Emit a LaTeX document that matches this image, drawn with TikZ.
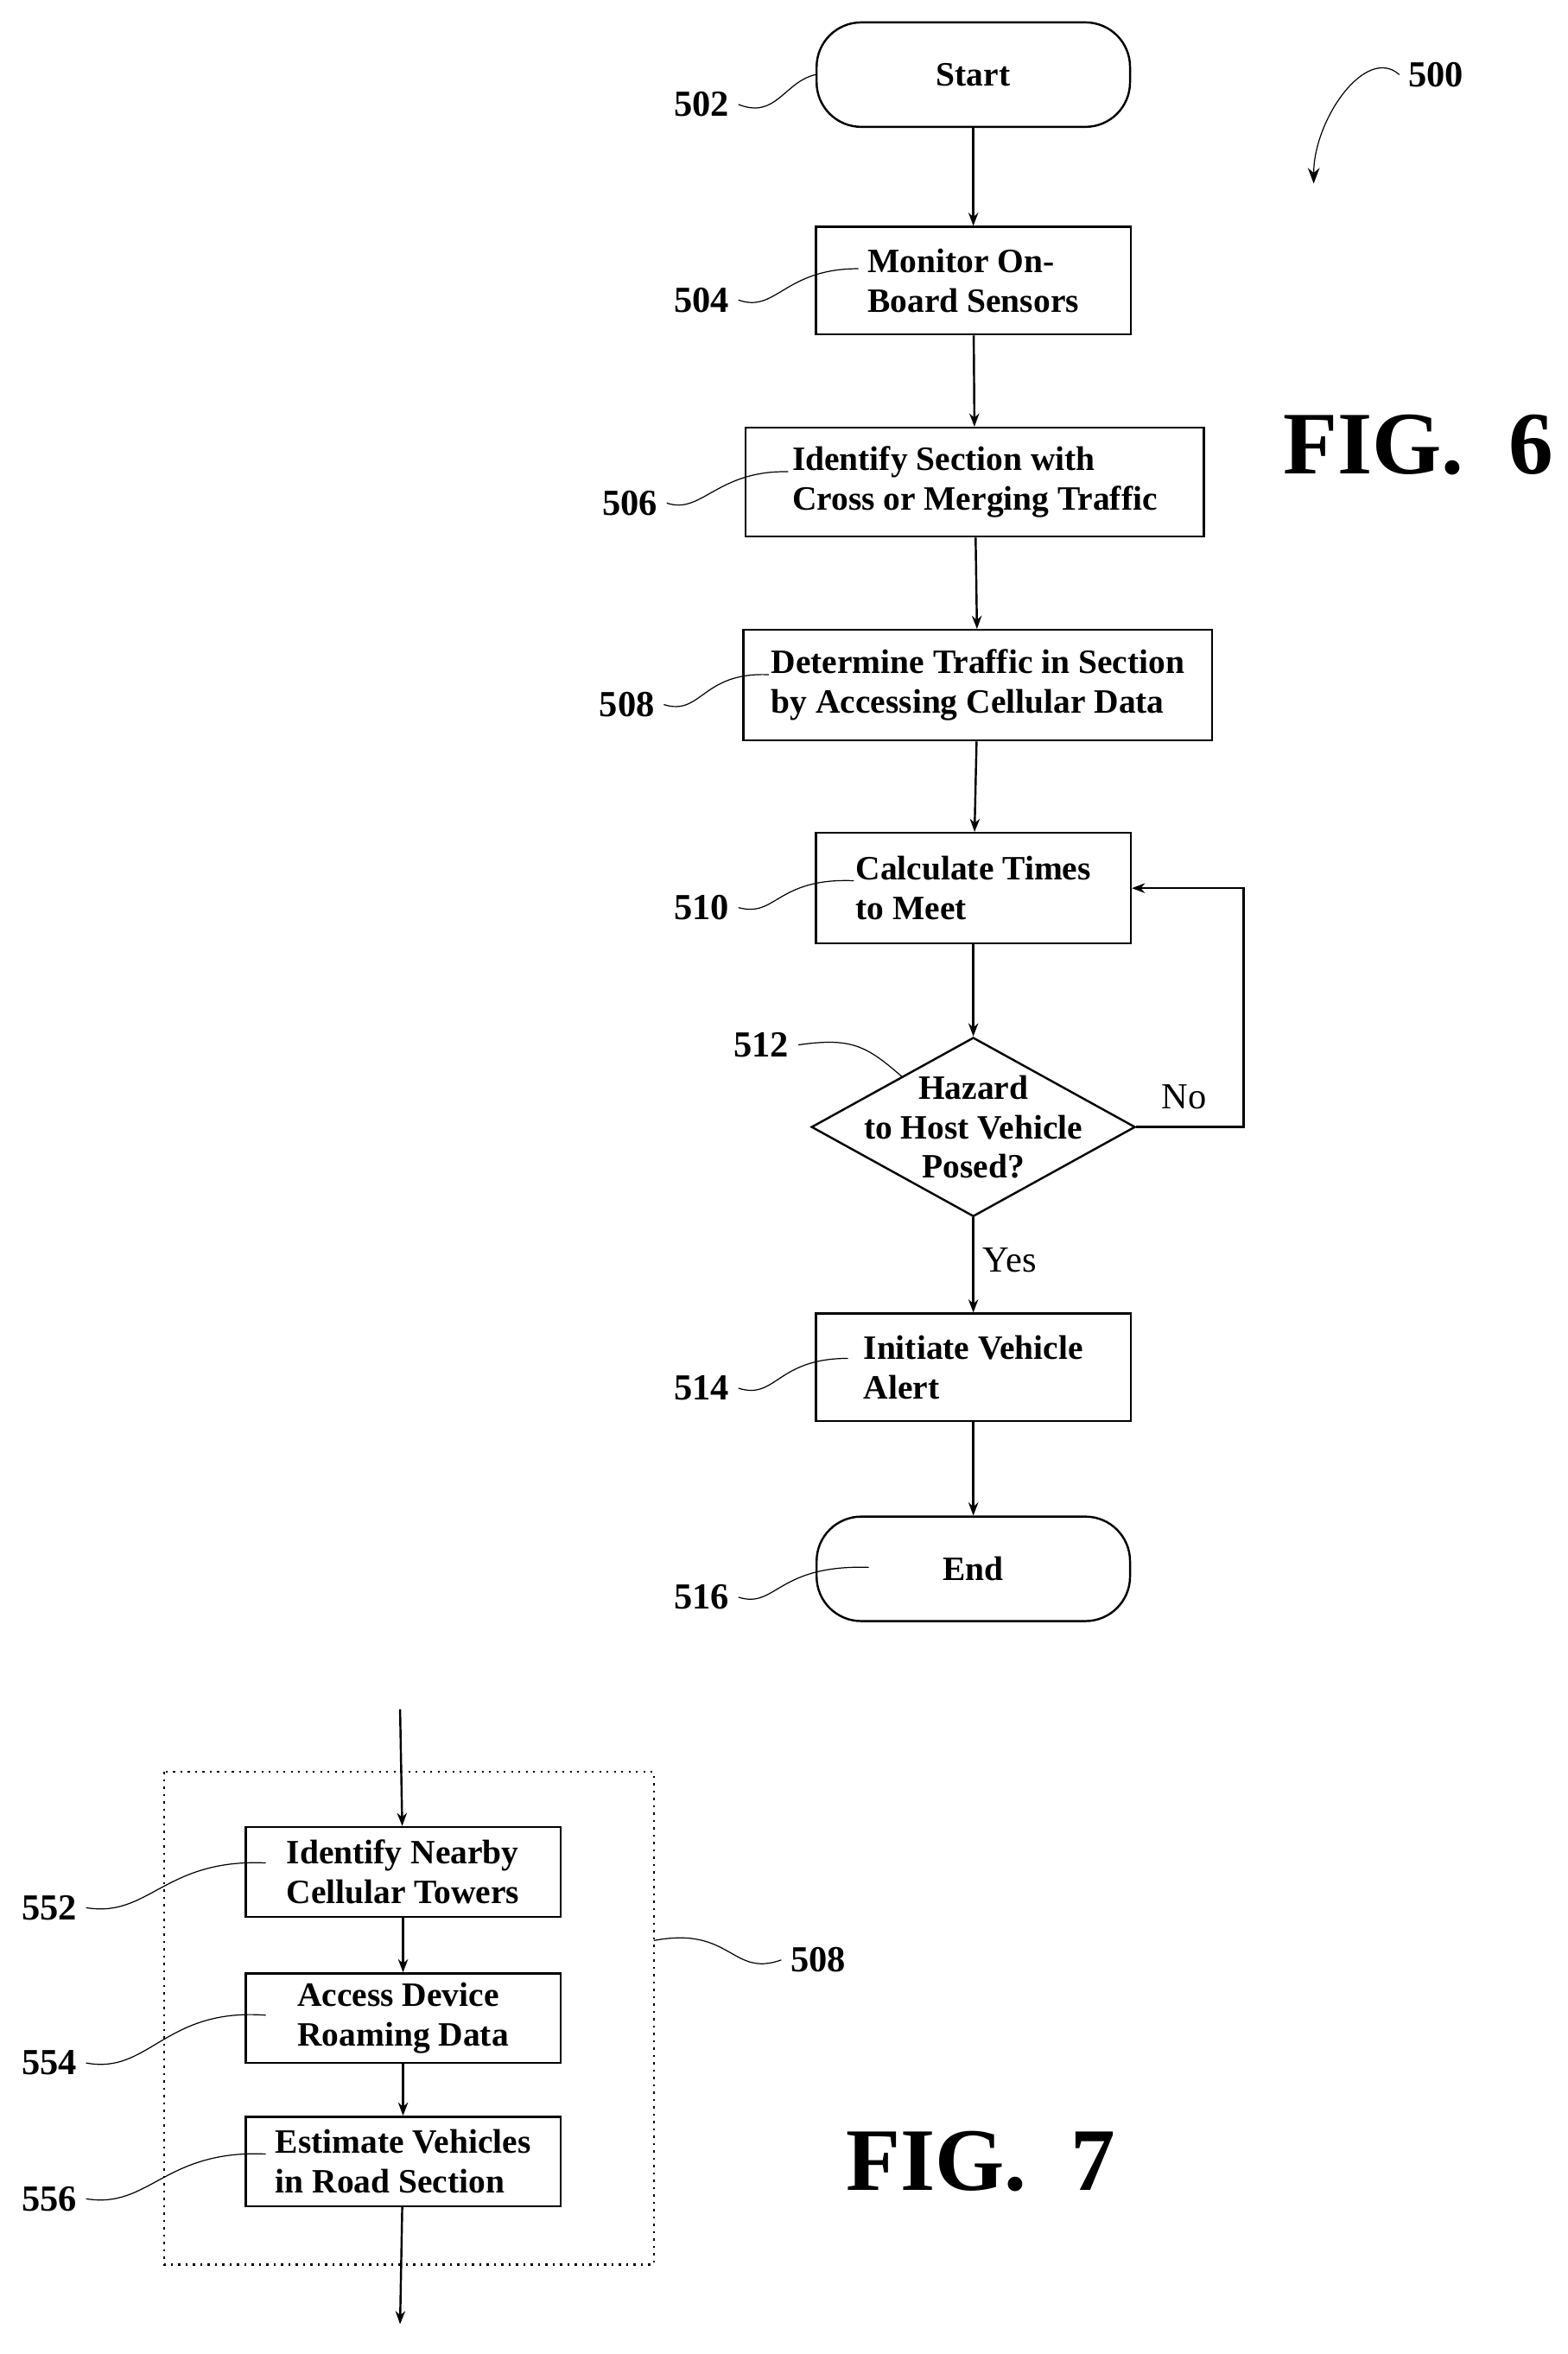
\documentclass[tikz,border=0pt]{standalone}
\usepackage{fontspec}
\setmainfont{Liberation Serif}
\usetikzlibrary{shapes.geometric,arrows.meta}
\begin{document}
\begin{tikzpicture}[x=0.02cm,y=-0.02cm,
    font=\fontsize{13}{15}\selectfont\bfseries,
    box/.style={rectangle, draw, thick, align=left, inner sep=0pt},
    term/.style={rectangle, rounded corners=17pt, draw, thick, minimum width=4.2cm, minimum height=1.4cm},
    flow/.style={thick, -{Stealth[length=5pt]}},
    lead/.style={thin},
    num/.style={font=\fontsize{14}{16}\selectfont\bfseries},
    fig/.style={font=\fontsize{34}{34}\selectfont\bfseries}]
    \useasboundingbox (0,0) rectangle (1050,1577);
    % FIG. 6
    \node[term] (start) at (652,50) {Start};
    \node[box, minimum width=4.22cm, minimum height=1.44cm] (mon) at (652,188) {Monitor On-\\Board Sensors};
    \node[box, minimum width=6.14cm, minimum height=1.46cm] (ident) at (653,323) {Identify Section with\\Cross or Merging Traffic};
    \node[box, minimum width=6.28cm, minimum height=1.48cm] (det) at (655,459) {Determine Traffic in Section\\by Accessing Cellular Data};
    \node[box, minimum width=4.22cm, minimum height=1.48cm] (calc) at (652,595) {Calculate Times\\to Meet\hspace{2.2em}};
    \node[diamond, draw, thick, shape aspect=1.8, minimum width=4.34cm, minimum height=2.4cm, inner sep=-9pt, align=center] (haz) at (652,755) {Hazard\\to Host Vehicle\\Posed?};
    \node[box, minimum width=4.22cm, minimum height=1.44cm] (alert) at (652,916) {Initiate Vehicle\\Alert\hspace{5em}};
    \node[term] (end) at (652,1051) {End};
    \draw[flow] (start) -- (mon);
    \draw[flow] (mon) -- (ident);
    \draw[flow] (ident) -- (det);
    \draw[flow] (det) -- (calc);
    \draw[flow] (calc) -- (haz);
    \draw[flow] (haz) -- (alert) node[pos=0.45, right, font=\fontsize{14}{16}\selectfont] {Yes};
    \draw[flow] (alert) -- (end);
    \coordinate (loop) at (833,755);
    \draw[flow] (haz.east) -- (loop) |- (calc.east);
    \node[font=\fontsize{14}{16}\selectfont] (no) at (793,735) {No};
    % reference numerals
    \node[num] (n502) at (470,70) {502};
    \draw[lead] (n502.east) .. controls (520,80) and (525,55) .. (start.west);
    \node[num] (n504) at (470,201) {504};
    \draw[lead] (n504.east) .. controls (520,210) and (525,180) .. (575,180);
    \node[num] (n506) at (422,337) {506};
    \draw[lead] (n506.east) .. controls (470,345) and (480,315) .. (528,316);
    \node[num] (n508) at (420,472) {508};
    \draw[lead] (n508.east) .. controls (470,480) and (470,450) .. (515,452);
    \node[num] (n510) at (470,608) {510};
    \draw[lead] (n510.east) .. controls (520,615) and (520,588) .. (572,590);
    \node[num] (n512) at (510,700) {512};
    \draw[lead] (n512.east) .. controls (570,695) and (580,700) .. (605,722);
    \node[num] (n514) at (470,930) {514};
    \draw[lead] (n514.east) .. controls (520,938) and (520,910) .. (568,910);
    \node[num] (n516) at (470,1070) {516};
    \draw[lead] (n516.east) .. controls (520,1078) and (520,1048) .. (582,1050);
    \node[num] (n500) at (962,50) {500};
    \coordinate (p500) at (880,123);
    \draw[lead, -{Stealth[length=6pt]}] (n500.west) .. controls (915,30) and (880,80) .. (p500);
    \node[fig] (fig6) at (950,298) {FIG.\ \ 6};
    % FIG. 7
    \draw[thick, dotted] (110,1187) rectangle (438,1517);
    \coordinate (in) at (268,1145);
    \coordinate (out) at (268,1557);
    \node[box, minimum width=4.22cm, minimum height=1.2cm] (tow) at (270,1254) {Identify Nearby\\Cellular Towers};
    \node[box, minimum width=4.22cm, minimum height=1.2cm] (roam) at (270,1352) {Access Device\\Roaming Data};
    \node[box, minimum width=4.22cm, minimum height=1.2cm] (est) at (270,1448) {Estimate Vehicles\\in Road Section};
    \draw[flow] (in) -- (tow);
    \draw[flow] (tow) -- (roam);
    \draw[flow] (roam) -- (est);
    \draw[flow] (est) -- (out);
    \node[num] (n552) at (33,1278) {552};
    \draw[lead] (n552.east) .. controls (100,1285) and (110,1245) .. (178,1248);
    \node[num] (n554) at (33,1382) {554};
    \draw[lead] (n554.east) .. controls (100,1390) and (110,1345) .. (178,1350);
    \node[num] (n556) at (33,1473) {556};
    \draw[lead] (n556.east) .. controls (100,1480) and (110,1440) .. (178,1443);
    \node[num] (n508b) at (548,1313) {508};
    \draw[lead] (n508b.west) .. controls (490,1325) and (490,1290) .. (438,1300);
    \node[fig] (fig7) at (657,1448) {FIG.\ \ 7};
\end{tikzpicture}
\end{document}
